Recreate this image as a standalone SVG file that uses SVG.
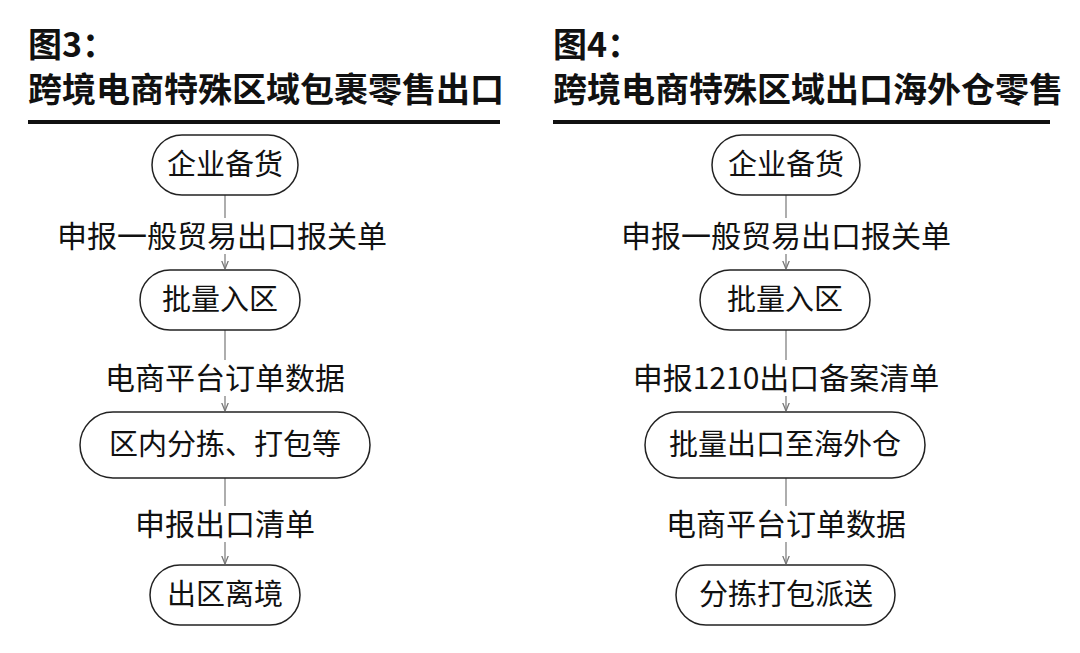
<svg xmlns="http://www.w3.org/2000/svg" width="1080" height="653" viewBox="0 0 1080 653">
<style>
text{font-family:"Noto Sans CJK SC","Noto Sans",sans-serif;fill:#111}
.t{font-size:34px;font-weight:bold}
.n{font-size:29px;text-anchor:middle}
.l{font-size:30px;text-anchor:middle}
rect.b{fill:#fff;stroke:#222;stroke-width:1.5}
.c line{stroke:#777;stroke-width:1.2;marker-end:url(#a)}
</style>
<defs><marker id="a" viewBox="0 0 10 10" refX="10" refY="5" markerWidth="7" markerHeight="7" orient="auto"><path d="M0,1 L10,5 L0,9" fill="none" stroke="#777" stroke-width="1.5"/></marker></defs>
<rect width="1080" height="653" fill="#fff"/>
<text class="t" x="28" y="57">图3：</text>
<text class="t" x="28" y="102">跨境电商特殊区域包裹零售出口</text>
<rect x="28" y="120" width="472" height="4" fill="#111"/>
<text class="t" x="553" y="57">图4：</text>
<text class="t" x="553" y="102">跨境电商特殊区域出口海外仓零售</text>
<rect x="553" y="120" width="497" height="4" fill="#111"/>
<g class="c">
<line x1="225" y1="195" x2="225" y2="269"/>
<line x1="225" y1="330" x2="225" y2="411"/>
<line x1="225" y1="478" x2="225" y2="564"/>
<line x1="786" y1="195" x2="786" y2="269"/>
<line x1="786" y1="330" x2="786" y2="411"/>
<line x1="786" y1="478" x2="786" y2="564"/>
</g>
<g id="l1"><rect x="50" y="218" width="350" height="36" fill="#fff"/><text class="l" x="222" y="247">申报一般贸易出口报关单</text></g>
<g id="l2"><rect x="100" y="360" width="250" height="36" fill="#fff"/><text class="l" x="225" y="389">电商平台订单数据</text></g>
<g id="l3"><rect x="130" y="506" width="190" height="36" fill="#fff"/><text class="l" x="225" y="535">申报出口清单</text></g>
<g id="r1"><rect x="615" y="218" width="345" height="36" fill="#fff"/><text class="l" x="786" y="247">申报一般贸易出口报关单</text></g>
<g id="r2"><rect x="628" y="360" width="318" height="36" fill="#fff"/><text class="l" x="786" y="389">申报1210出口备案清单</text></g>
<g id="r3"><rect x="660" y="506" width="252" height="36" fill="#fff"/><text class="l" x="786" y="535">电商平台订单数据</text></g>
<g id="n1"><rect class="b" x="152" y="135" width="146" height="60" rx="30"/><text class="n" x="225" y="175">企业备货</text></g>
<g id="n2"><rect class="b" x="140" y="270" width="160" height="60" rx="30"/><text class="n" x="220" y="310">批量入区</text></g>
<g id="n3"><rect class="b" x="80" y="412" width="290" height="66" rx="33"/><text class="n" x="225" y="455">区内分拣、打包等</text></g>
<g id="n4"><rect class="b" x="150" y="565" width="150" height="60" rx="30"/><text class="n" x="225" y="605">出区离境</text></g>
<g id="m1"><rect class="b" x="712" y="135" width="148" height="60" rx="30"/><text class="n" x="786" y="175">企业备货</text></g>
<g id="m2"><rect class="b" x="700" y="270" width="170" height="60" rx="30"/><text class="n" x="785" y="310">批量入区</text></g>
<g id="m3"><rect class="b" x="645" y="412" width="280" height="66" rx="33"/><text class="n" x="785" y="455">批量出口至海外仓</text></g>
<g id="m4"><rect class="b" x="676" y="565" width="219" height="60" rx="30"/><text class="n" x="786" y="605">分拣打包派送</text></g>
</svg>
